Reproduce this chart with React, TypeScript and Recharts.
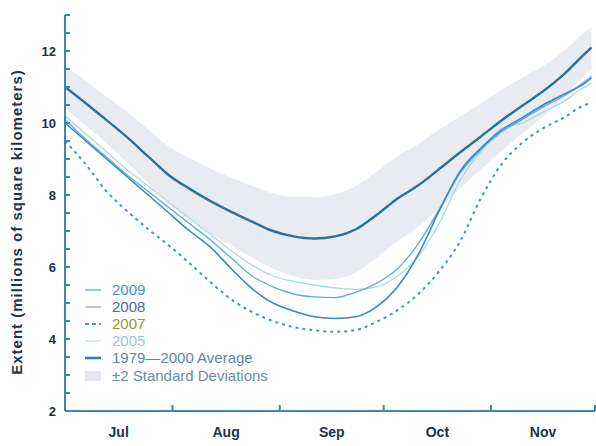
import {
  Area,
  ComposedChart,
  Line,
  XAxis,
  YAxis,
} from 'recharts'

// days since Jul 1
const days = [0, 6, 12, 18, 24, 30, 36, 42, 48, 54, 60, 66, 72, 78, 84, 90, 96, 102, 108, 114, 120, 126, 132, 138, 144, 150, 152]

const avg7900 = [11.0, 10.55, 10.08, 9.6, 9.07, 8.55, 8.17, 7.83, 7.53, 7.26, 7.0, 6.85, 6.79, 6.85, 7.05, 7.45, 7.9, 8.27, 8.72, 9.18, 9.62, 10.07, 10.48, 10.88, 11.35, 11.92, 12.1]
const bandLow = [10.4, 9.93, 9.43, 8.9, 8.32, 7.75, 7.32, 6.93, 6.58, 6.26, 5.95, 5.75, 5.64, 5.67, 5.85, 6.25, 6.72, 7.12, 7.62, 8.18, 8.7, 9.22, 9.7, 10.18, 10.7, 11.32, 11.52]
const bandHigh = [11.6, 11.17, 10.73, 10.3, 9.82, 9.35, 9.02, 8.73, 8.48, 8.26, 8.05, 7.95, 7.94, 8.03, 8.25, 8.65, 9.08, 9.42, 9.82, 10.18, 10.54, 10.92, 11.26, 11.58, 12.0, 12.52, 12.68]
const y2009 = [10.1, 9.55, 9.05, 8.55, 8.1, 7.65, 7.2, 6.75, 6.25, 5.75, 5.45, 5.25, 5.17, 5.15, 5.3, 5.55, 5.95, 6.65, 7.6, 8.6, 9.25, 9.75, 10.1, 10.45, 10.75, 11.15, 11.3]
const y2008 = [10.0, 9.5, 9.0, 8.5, 8.0, 7.5, 7.0, 6.55, 5.95, 5.4, 5.0, 4.78, 4.62, 4.57, 4.62, 4.9, 5.45, 6.35, 7.55, 8.65, 9.3, 9.8, 10.15, 10.5, 10.8, 11.1, 11.25]
const y2007 = [9.5, 8.85, 8.1, 7.55, 7.05, 6.6, 6.1, 5.58, 5.1, 4.75, 4.5, 4.33, 4.24, 4.2, 4.25, 4.48, 4.8, 5.25, 5.88, 6.7, 7.9, 8.85, 9.45, 9.85, 10.15, 10.5, 10.55]
const y2005 = [10.2, 9.7, 9.2, 8.7, 8.25, 7.8, 7.35, 6.9, 6.45, 6.05, 5.75, 5.6, 5.5, 5.42, 5.38, 5.45, 5.75, 6.3, 7.2, 8.4, 9.2, 9.85, 10.0, 10.3, 10.6, 11.0, 11.1]

const monthStarts = [0, 31, 62, 92, 123, 153]
const monthMids = [15.5, 46.5, 77, 107.5, 138]
const monthNames = ['Jul', 'Aug', 'Sep', 'Oct', 'Nov']
const yTicks = [2, 2.5, 3, 3.5, 4, 4.5, 5, 5.5, 6, 6.5, 7, 7.5, 8, 8.5, 9, 9.5, 10, 10.5, 11, 11.5, 12, 12.5, 13]

const data = days.map((d, i) => ({
  day: d,
  avg: avg7900[i],
  band: [bandLow[i], bandHigh[i]],
  y2009: y2009[i],
  y2008: y2008[i],
  y2007: y2007[i],
  y2005: y2005[i],
}))

const AXIS = '#3d88a8'
const INK = '#1d3347'
const FONT = '"Liberation Sans", Arial, sans-serif'

const legendItems = [
  { label: '2009', color: '#4a8fd0', stroke: '#6ab4e0', dash: '', w: 1.5 },
  { label: '2008', color: '#5565b0', stroke: '#9fb4cc', dash: '', w: 1.5 },
  { label: '2007', color: '#8f9c3c', stroke: '#3d97cc', dash: '4 3', w: 2 },
  { label: '2005', color: '#92cadc', stroke: '#b8dde8', dash: '', w: 1.2 },
  { label: '1979\u20142000 Average', color: '#5b86b0', stroke: '#2f7c9f', dash: '', w: 2.5 },
]

export default function App() {
  return (
    <div style={{ position: 'absolute', left: 0, top: 0, width: 596, height: 446, background: '#fff', fontFamily: FONT }}>
      <ComposedChart width={596} height={446} data={data} margin={{ top: 15, right: 1, left: 5, bottom: 0 }}>
        <XAxis
          dataKey="day"
          type="number"
          domain={[0, 153]}
          ticks={monthStarts}
          tickFormatter={() => ''}
          height={5}
          tickSize={-6}
          stroke={AXIS}
          strokeWidth={2}
          allowDataOverflow
        />
        <XAxis
          xAxisId="months"
          dataKey="day"
          type="number"
          domain={[0, 153]}
          ticks={monthMids}
          tickFormatter={(v) => monthNames[monthMids.indexOf(v)] ?? ''}
          height={30}
          axisLine={false}
          tickLine={false}
          tickSize={0}
          tickMargin={11}
          tick={{ fill: INK, fontSize: 14, fontWeight: 'bold', fontFamily: FONT }}
        />
        <YAxis
          type="number"
          domain={[2, 13]}
          ticks={yTicks}
          tickFormatter={(v) => (v % 2 === 0 ? String(v) : '')}
          width={60}
          tickSize={-5}
          tickMargin={14}
          stroke={AXIS}
          strokeWidth={2}
          interval={0}
          tick={{ fill: INK, fontSize: 13, fontWeight: 'bold', fontFamily: FONT }}
          label={{
            value: 'Extent (millions of square kilometers)',
            angle: -90,
            position: 'insideLeft',
            offset: 12,
            dy: 9,
            style: { textAnchor: 'middle', fill: INK, fontSize: 15, fontWeight: 'bold', letterSpacing: 1, fontFamily: FONT },
          }}
        />
        <Area dataKey="band" type="monotone" fill="#e6e9ef" fillOpacity={0.9} stroke="none" isAnimationActive={false} />
        <Line dataKey="y2005" type="monotone" stroke="#a8d8e8" strokeWidth={1.3} dot={false} isAnimationActive={false} />
        <Line dataKey="y2009" type="monotone" stroke="#62aedb" strokeWidth={1.4} dot={false} isAnimationActive={false} />
        <Line dataKey="y2008" type="monotone" stroke="#3a88bd" strokeWidth={1.6} dot={false} isAnimationActive={false} />
        <Line dataKey="y2007" type="monotone" stroke="#3d97cc" strokeWidth={2} strokeDasharray="3 4" dot={false} isAnimationActive={false} />
        <Line dataKey="avg" type="monotone" stroke="#2b7395" strokeWidth={2.4} dot={false} isAnimationActive={false} />
      </ComposedChart>
      <div style={{ position: 'absolute', left: 84, top: 281, fontSize: 15, lineHeight: '17px' }}>
        {legendItems.map((it) => (
          <div key={it.label} style={{ display: 'flex', alignItems: 'center', height: 17 }}>
            <svg width={22} height={10} style={{ marginRight: 6 }}>
              <line x1={1} y1={5} x2={17} y2={5} stroke={it.stroke} strokeWidth={it.w} strokeDasharray={it.dash} />
            </svg>
            <span style={{ color: it.color }}>{it.label}</span>
          </div>
        ))}
        <div style={{ display: 'flex', alignItems: 'center', height: 19 }}>
          <svg width={22} height={12} style={{ marginRight: 6 }}>
            <rect x={1} y={1} width={16} height={10} fill="#e4e8ee" />
          </svg>
          <span style={{ color: '#6d8aa5' }}>±2 Standard Deviations</span>
        </div>
      </div>
    </div>
  )
}
